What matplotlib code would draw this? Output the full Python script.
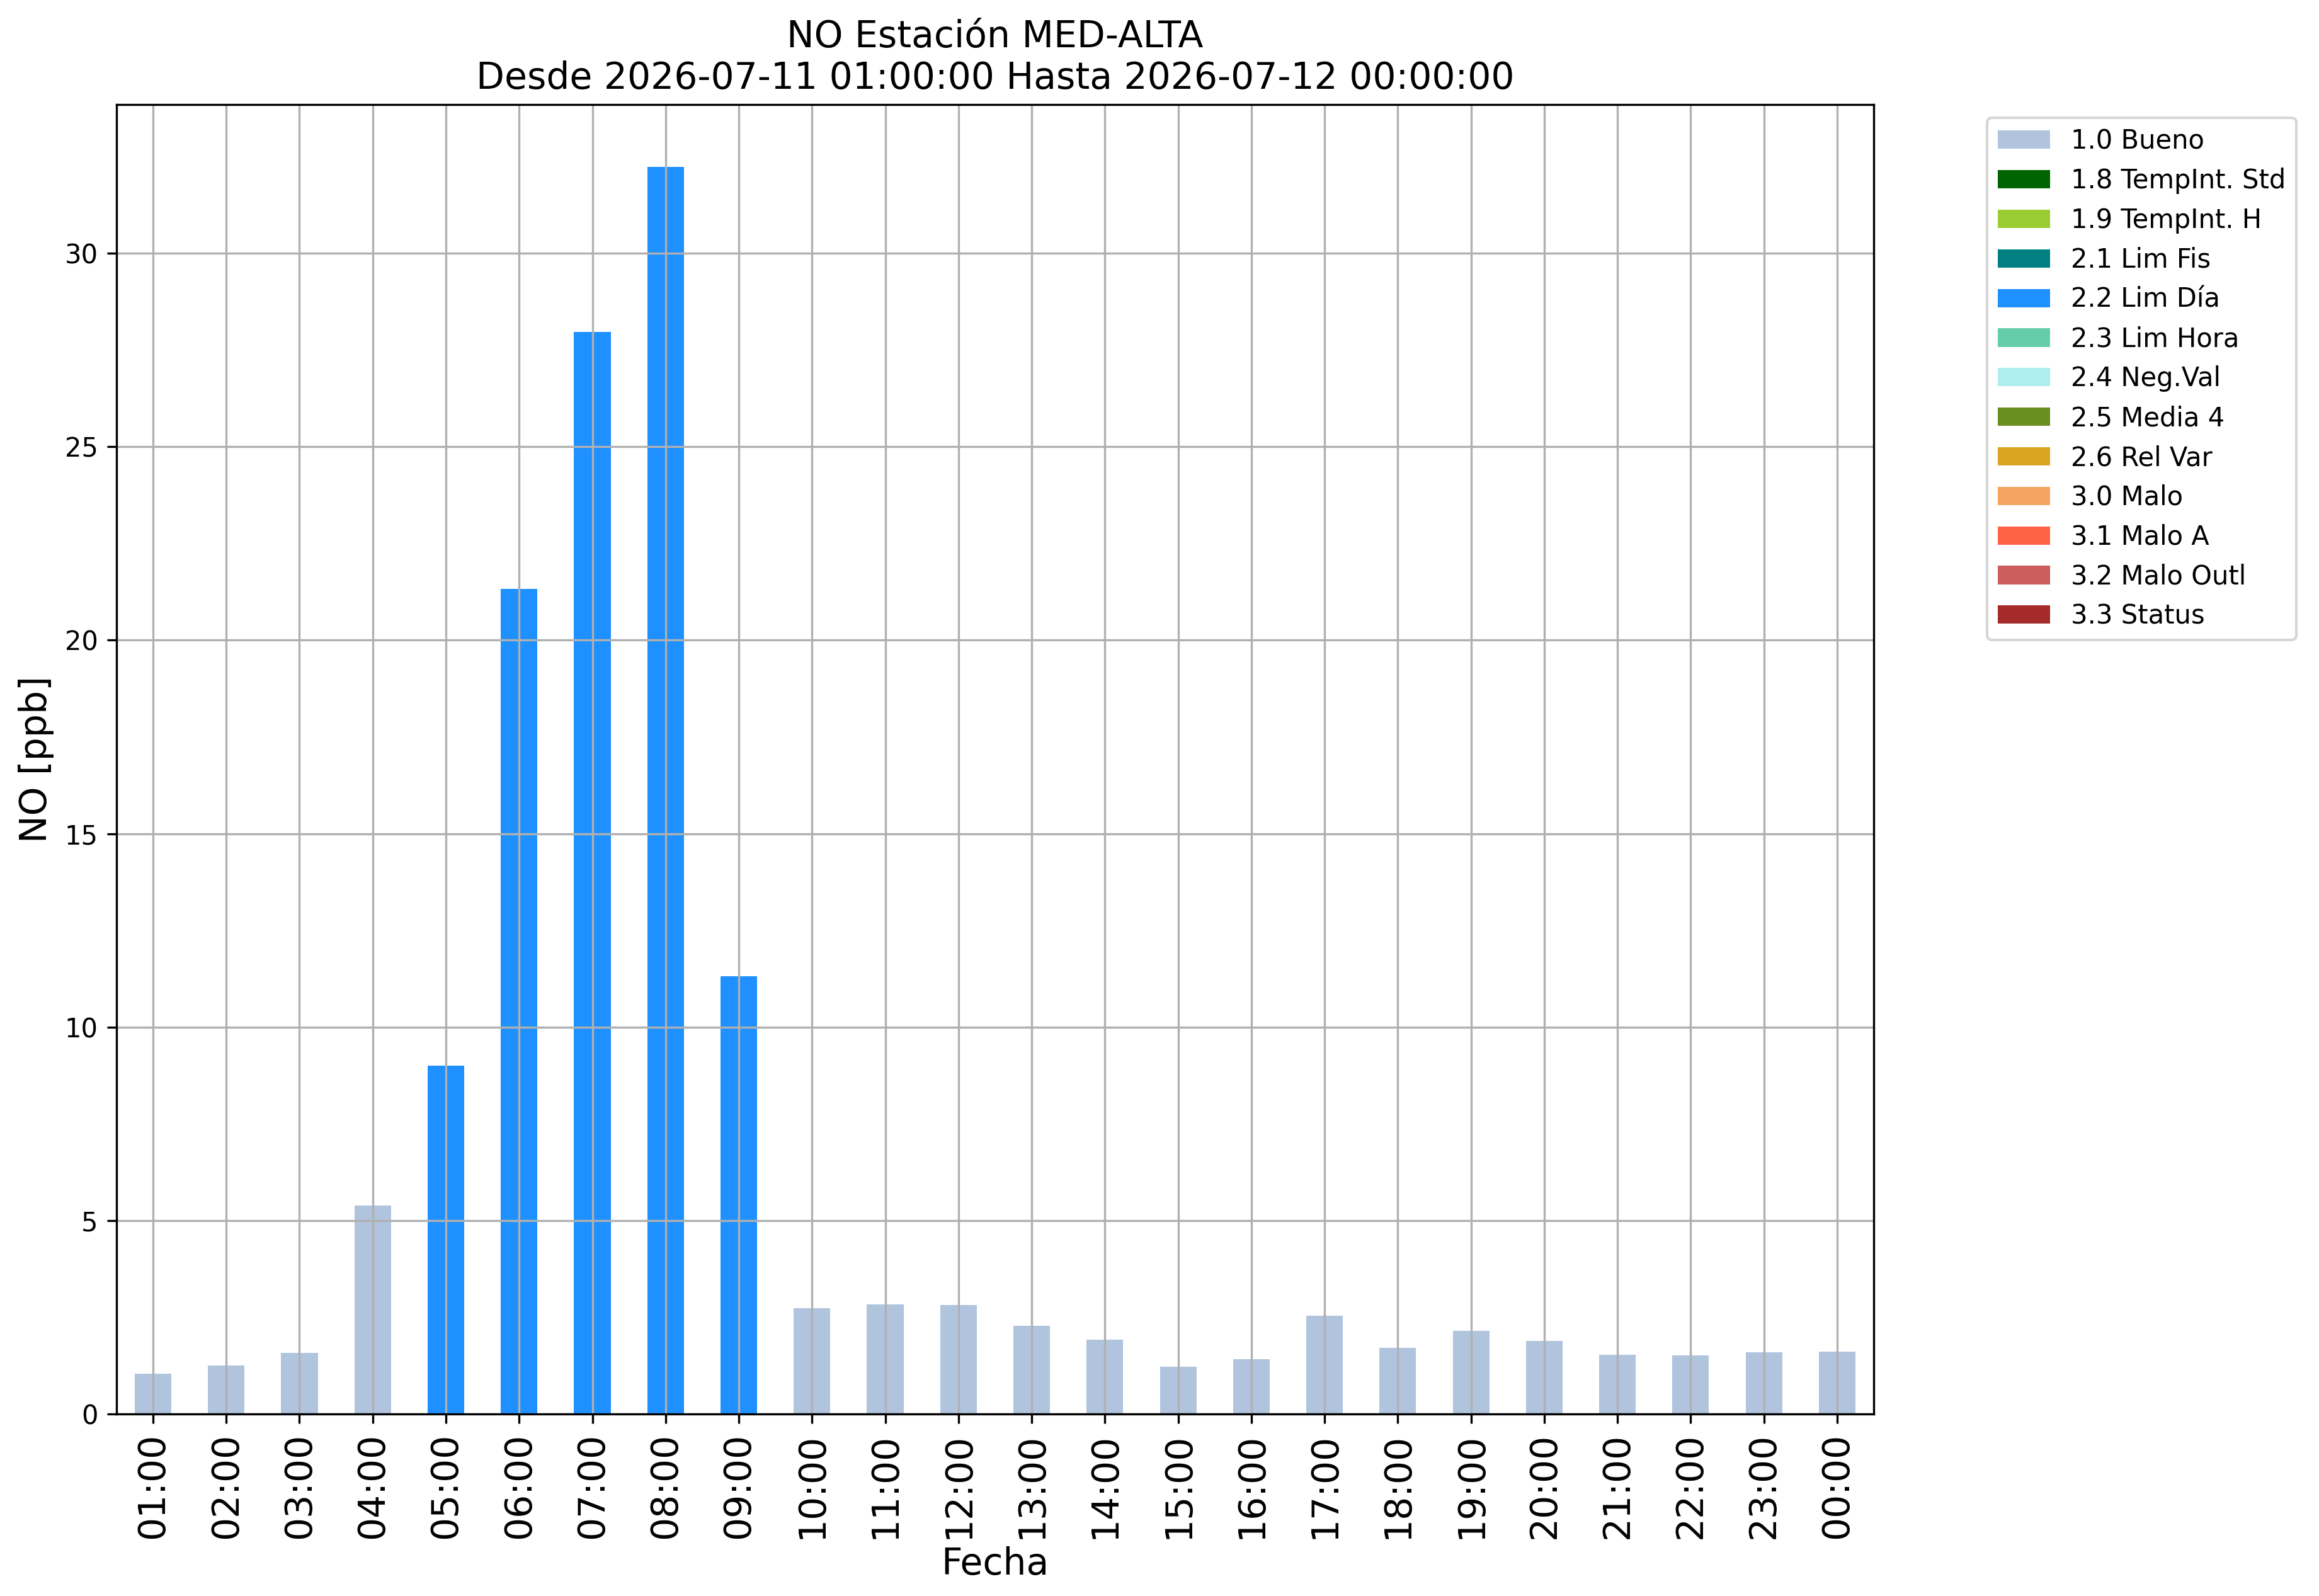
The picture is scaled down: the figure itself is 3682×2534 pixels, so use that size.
import matplotlib
matplotlib.use("Agg")
import matplotlib.pyplot as plt
import numpy as np

hours = ["01:00", "02:00", "03:00", "04:00", "05:00", "06:00", "07:00", "08:00",
         "09:00", "10:00", "11:00", "12:00", "13:00", "14:00", "15:00", "16:00",
         "17:00", "18:00", "19:00", "20:00", "21:00", "22:00", "23:00", "00:00"]
values = [1.04, 1.25, 1.58, 5.39, 9.0, 21.33, 27.96, 32.23,
          11.32, 2.73, 2.83, 2.82, 2.28, 1.92, 1.22, 1.42,
          2.54, 1.71, 2.15, 1.89, 1.53, 1.51, 1.59, 1.61]
flags = ["1.0", "1.0", "1.0", "1.0", "2.2", "2.2", "2.2", "2.2",
         "2.2", "1.0", "1.0", "1.0", "1.0", "1.0", "1.0", "1.0",
         "1.0", "1.0", "1.0", "1.0", "1.0", "1.0", "1.0", "1.0"]

flag_codes = ["1.0", "1.8", "1.9", "2.1", "2.2", "2.3", "2.4", "2.5", "2.6",
              "3.0", "3.1", "3.2", "3.3"]
flag_names = ["1.0 Bueno", "1.8 TempInt. Std", "1.9 TempInt. H", "2.1 Lim Fis",
              "2.2 Lim Día", "2.3 Lim Hora", "2.4 Neg.Val", "2.5 Media 4",
              "2.6 Rel Var", "3.0 Malo", "3.1 Malo A", "3.2 Malo Outl", "3.3 Status"]
flag_colors = ["lightsteelblue", "darkgreen", "yellowgreen", "teal", "dodgerblue",
               "mediumaquamarine", "paleturquoise", "olivedrab", "goldenrod",
               "sandybrown", "tomato", "indianred", "brown"]

fig = plt.figure(figsize=(3682 / 300, 2534 / 300), dpi=300)
ax = fig.add_axes([0.0502, 0.114, 0.808 - 0.0502, 0.9345 - 0.114])

x = np.arange(len(hours))
bottom = np.zeros(len(hours))
for code, name, col in zip(flag_codes, flag_names, flag_colors):
    vals = np.array([v if f == code else 0.0 for v, f in zip(values, flags)])
    ax.bar(x, vals, width=0.5, bottom=bottom, color=col, label=name)
    bottom += vals

ax.set_xlim(-0.5, len(hours) - 0.5)
ax.set_ylim(0, max(values) * 1.05)
ax.set_xticks(x)
ax.set_xticklabels(hours, rotation=90, fontsize=14)
ax.tick_params(axis="y", labelsize=10)
ax.set_yticks([0, 5, 10, 15, 20, 25, 30])
ax.grid(True)
ax.set_xlabel("Fecha", fontsize=14, labelpad=3)
ax.set_ylabel("NO [ppb]", fontsize=14)
ax.set_title("NO Estación MED-ALTA\nDesde 2026-07-11 01:00:00 Hasta 2026-07-12 00:00:00",
             fontsize=14)
ax.legend(loc="upper left", bbox_to_anchor=(1.057, 1.0), fontsize=10)

fig.savefig("out.png", dpi=300)
